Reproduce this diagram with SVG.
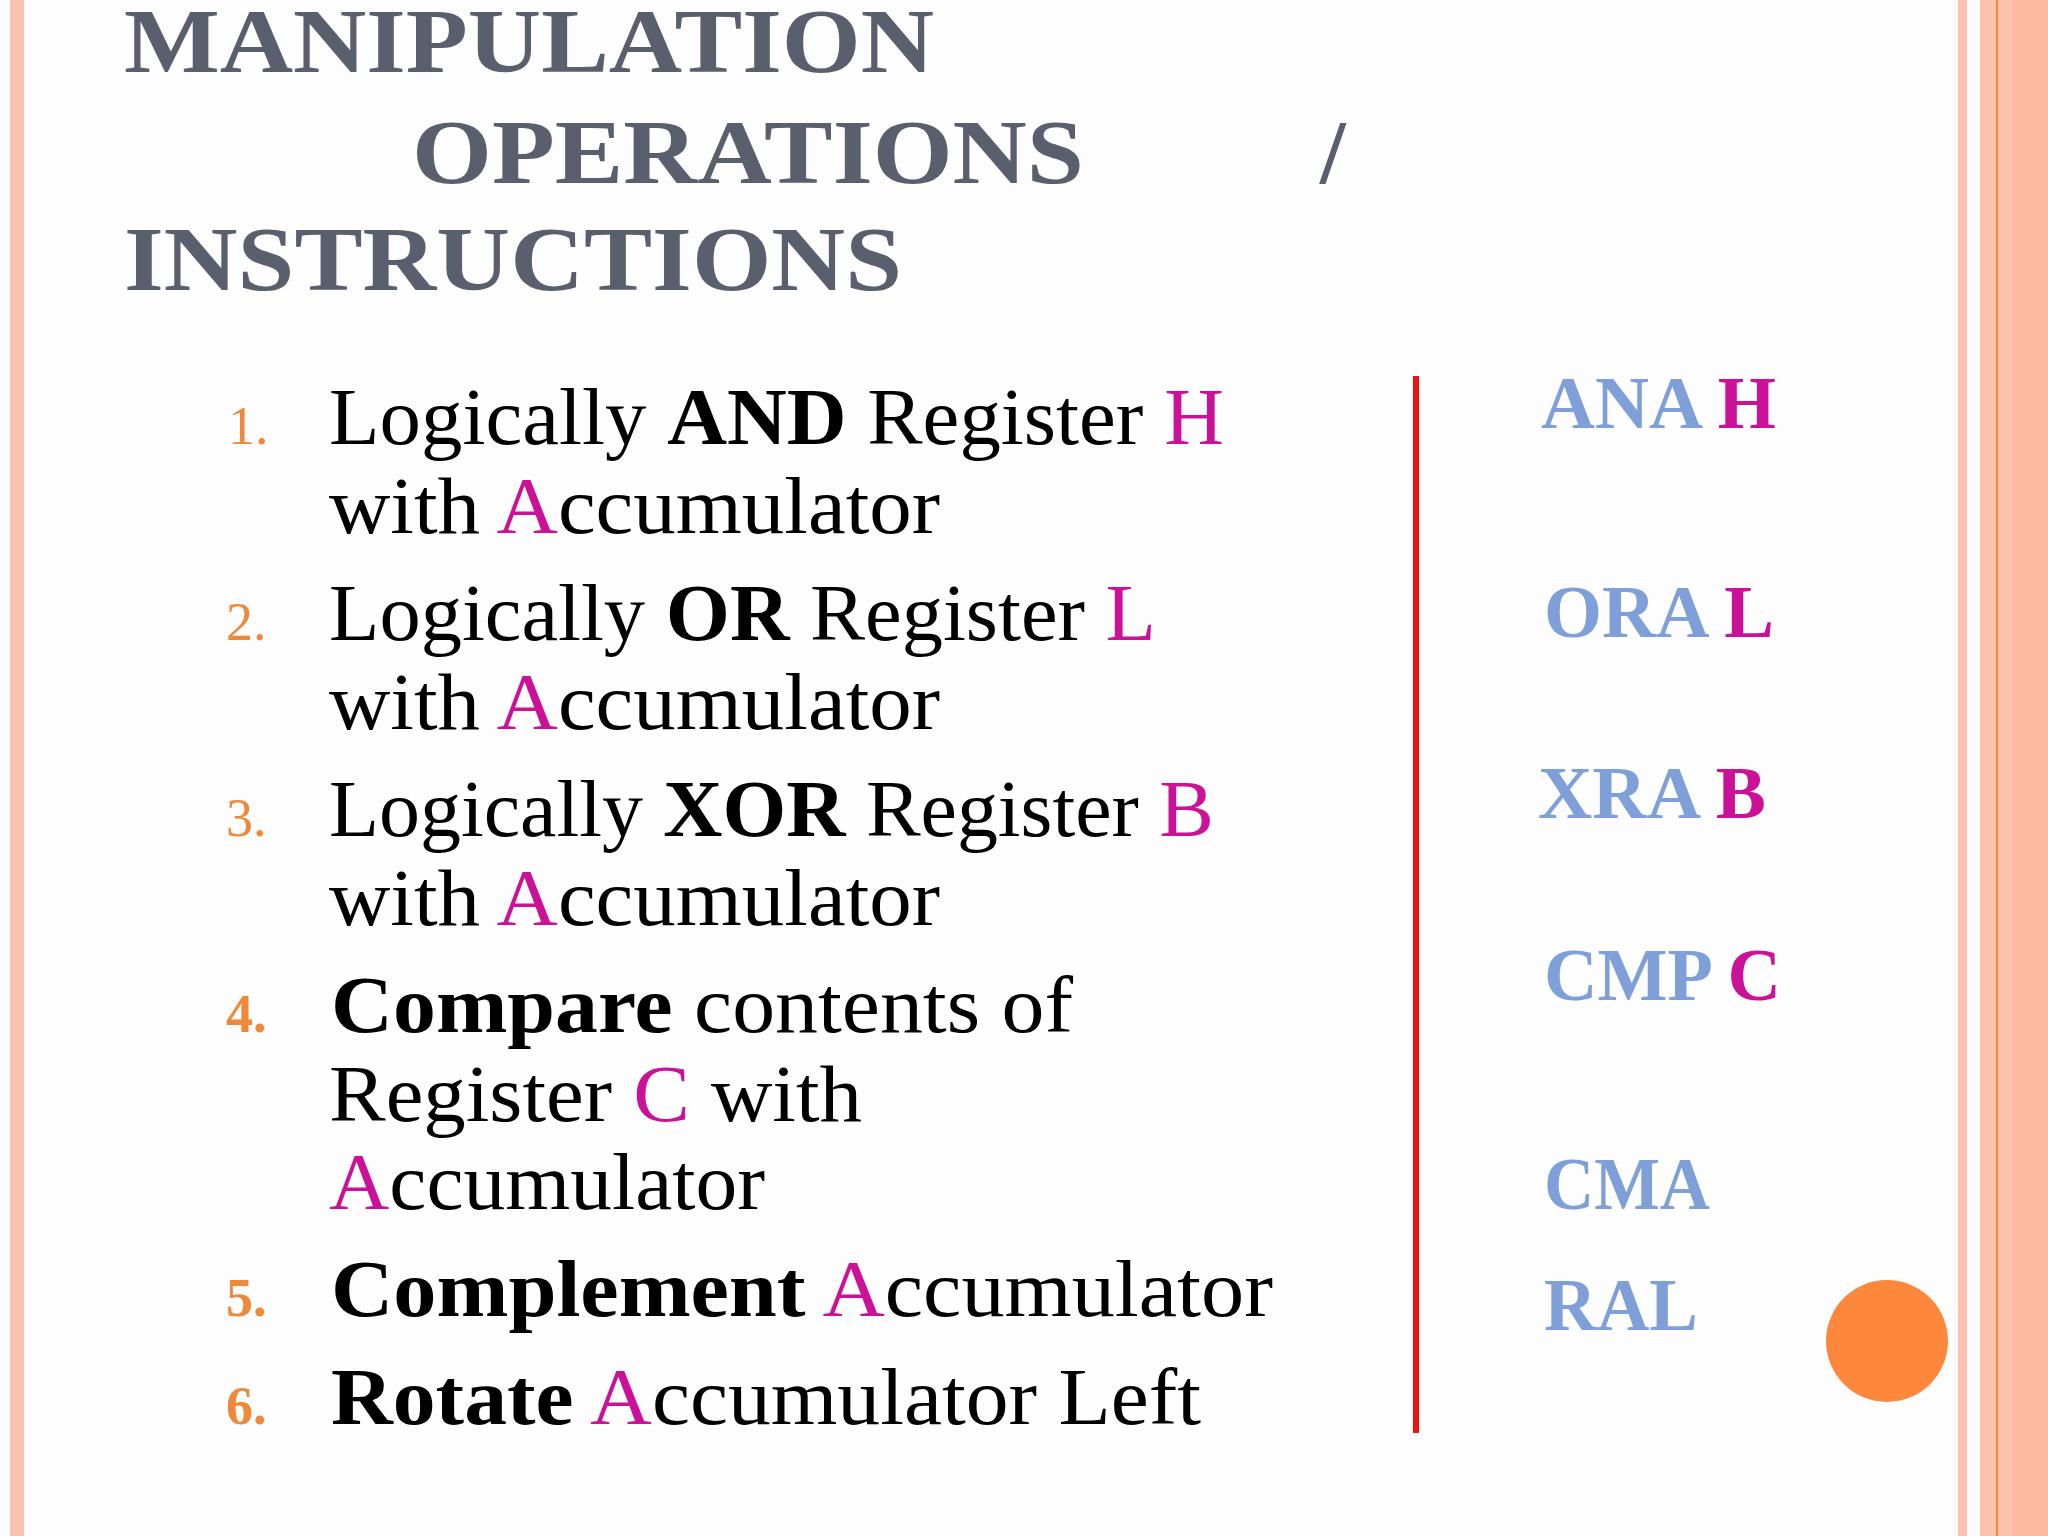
<svg xmlns="http://www.w3.org/2000/svg" width="2048" height="1536" viewBox="0 0 2048 1536">
<style>
.t{font-family:"Liberation Serif",serif;font-weight:bold;font-size:92px;fill:#5a5f6d}
.l{font-family:"Liberation Serif",serif;font-size:80px;fill:#000}
.n{font-family:"Liberation Serif",serif;font-size:54px;fill:#f0883a}
.c{font-family:"Liberation Serif",serif;font-weight:bold;font-size:74px;fill:#7f9fd8}
.p{fill:#cc1199}
.b{font-weight:bold}
</style>
<rect width="2048" height="1536" fill="#fdfdfd"/>
<rect x="10" y="0" width="14" height="1536" fill="#fdc2ab"/>
<rect x="1958" y="0" width="9" height="1536" fill="#fdc2ab"/>
<rect x="1980" y="0" width="68" height="1536" fill="#fdc2ab"/>
<rect x="2012" y="0" width="36" height="1536" fill="#fdbaa0"/>
<rect x="1996" y="0" width="2" height="1536" fill="#f5883a"/>
<g id="title">
<text class="t" x="124" y="72" textLength="810" lengthAdjust="spacingAndGlyphs">MANIPULATION</text>
<text class="t" x="412" y="183" textLength="672" lengthAdjust="spacingAndGlyphs">OPERATIONS</text>
<text class="t" x="1320" y="183">/</text>
<text class="t" x="124" y="290" textLength="778" lengthAdjust="spacingAndGlyphs">INSTRUCTIONS</text>
</g>
<g id="list">
<text class="n" x="228" y="444">1.</text>
<text class="l" x="329" y="444" textLength="895" lengthAdjust="spacingAndGlyphs">Logically <tspan class="b">AND</tspan> Register <tspan class="p">H</tspan></text>
<text class="l" x="329" y="533" textLength="611" lengthAdjust="spacingAndGlyphs">with <tspan class="p">A</tspan>ccumulator</text>
<text class="n" x="226" y="640">2.</text>
<text class="l" x="329" y="640" textLength="827" lengthAdjust="spacingAndGlyphs">Logically <tspan class="b">OR</tspan> Register <tspan class="p">L</tspan></text>
<text class="l" x="329" y="729" textLength="611" lengthAdjust="spacingAndGlyphs">with <tspan class="p">A</tspan>ccumulator</text>
<text class="n" x="226" y="836">3.</text>
<text class="l" x="329" y="836" textLength="885" lengthAdjust="spacingAndGlyphs">Logically <tspan class="b">XOR</tspan> Register <tspan class="p">B</tspan></text>
<text class="l" x="329" y="925" textLength="611" lengthAdjust="spacingAndGlyphs">with <tspan class="p">A</tspan>ccumulator</text>
<text class="n b" x="226" y="1032">4.</text>
<text class="l" x="331" y="1032" textLength="742" lengthAdjust="spacingAndGlyphs"><tspan class="b">Compare</tspan> contents of</text>
<text class="l" x="329" y="1121" textLength="533" lengthAdjust="spacingAndGlyphs">Register <tspan class="p">C</tspan> with</text>
<text class="l" x="329" y="1209" textLength="436" lengthAdjust="spacingAndGlyphs"><tspan class="p">A</tspan>ccumulator</text>
<text class="n b" x="226" y="1316">5.</text>
<text class="l" x="331" y="1316" textLength="942" lengthAdjust="spacingAndGlyphs"><tspan class="b">Complement</tspan> <tspan class="p">A</tspan>ccumulator</text>
<text class="n b" x="226" y="1424">6.</text>
<text class="l" x="331" y="1424" textLength="870" lengthAdjust="spacingAndGlyphs"><tspan class="b">Rotate</tspan> <tspan class="p">A</tspan>ccumulator Left</text>
</g>
<line x1="1416" y1="376" x2="1416" y2="1433" stroke="#f01010" stroke-width="6"/>
<g id="codes">
<text class="c" x="1541" y="428" textLength="235" lengthAdjust="spacingAndGlyphs">ANA <tspan class="p">H</tspan></text>
<text class="c" x="1544" y="637" textLength="230" lengthAdjust="spacingAndGlyphs">ORA <tspan class="p">L</tspan></text>
<text class="c" x="1538" y="818" textLength="228" lengthAdjust="spacingAndGlyphs">XRA <tspan class="p">B</tspan></text>
<text class="c" x="1544" y="1000" textLength="237" lengthAdjust="spacingAndGlyphs">CMP <tspan class="p">C</tspan></text>
<text class="c" x="1544" y="1209" textLength="166" lengthAdjust="spacingAndGlyphs">CMA</text>
<text class="c" x="1544" y="1330" textLength="154" lengthAdjust="spacingAndGlyphs">RAL</text>
</g>
<circle cx="1887" cy="1341" r="61" fill="#fd873a"/>
</svg>
